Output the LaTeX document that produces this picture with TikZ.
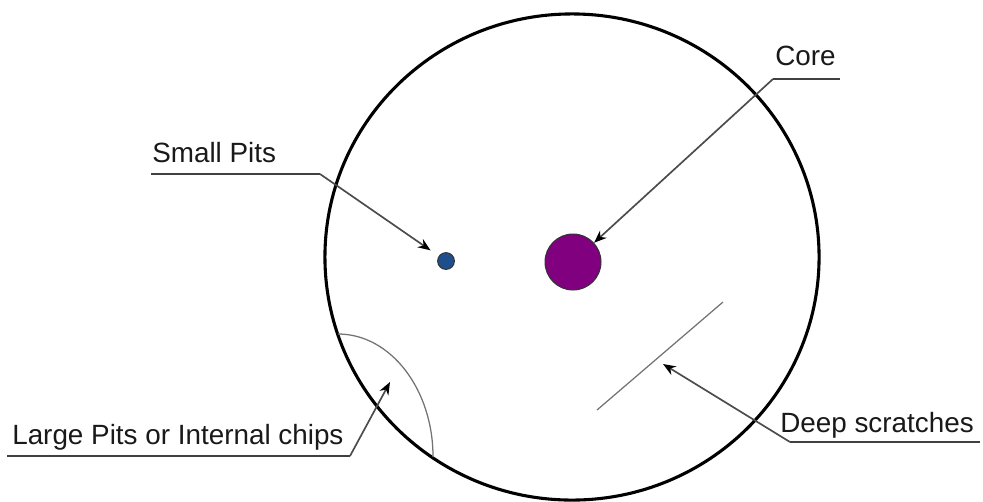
\documentclass[tikz,border=0pt]{standalone}
\usepackage{fontspec}
\setmainfont{Liberation Sans}
\usetikzlibrary{arrows.meta}
\definecolor{corepurple}{HTML}{800080}
\definecolor{pitblue}{HTML}{1F4E8C}
\begin{document}
\begin{tikzpicture}[x=0.025cm, y=-0.025cm,
  font=\fontsize{19.8}{23}\selectfont,
  label/.style={anchor=base west, inner sep=0pt, text=black!90},
  underline/.style={line width=1.6pt, black!75},
  leader/.style={line width=1.2pt, black!70, -{Stealth[length=9pt, width=7pt, black]}},
  defect/.style={line width=0.9pt, black!55},
  ]
  \useasboundingbox (0,0) rectangle (983,501);

  %%% lens outline %%%
  \draw[line width=2.2pt, black] (572,257) ellipse [x radius=6.175cm, y radius=6.075cm];

  %%% defects %%%
  \node[circle, fill=corepurple, draw=black!80, line width=0.7pt, minimum size=1.4cm, inner sep=0pt] (core) at (573,262) {};
  \node[circle, fill=pitblue, draw=black!80, line width=0.7pt, minimum size=0.42cm, inner sep=0pt] (pit) at (446,261) {};
  \draw[defect] (338,334) arc[start angle=90, end angle=0, x radius=2.375cm, y radius=3.075cm];
  \draw[defect] (723,302) -- (597,410);
  \coordinate (chip) at (390,382);
  \coordinate (scratch) at (663,364);

  %%% labels %%%
  \node[label] (pitlbl)     at (152,162) {Small Pits};
  \node[label] (corelbl)    at (775,65)  {Core};
  \node[label] (chiplbl)    at (12,444)  {Large Pits or Internal chips};
  \node[label] (scratchlbl) at (780,432) {Deep scratches};

  %%% underline ends %%%
  \coordinate (pitA) at (151,174);     \coordinate (pitB) at (320,174);
  \coordinate (coreA) at (840,79);     \coordinate (coreB) at (773,79);
  \coordinate (chipA) at (7,456);      \coordinate (chipB) at (350,456);
  \coordinate (scratchA) at (980,442); \coordinate (scratchB) at (790,442);

  %%% underlines and leaders %%%
  \draw[underline] (pitA) -- (pitB);
  \draw[underline] (coreA) -- (coreB);
  \draw[underline] (chipA) -- (chipB);
  \draw[underline] (scratchA) -- (scratchB);
  \draw[leader, shorten >=7pt] (pitB) -- (pit);
  \draw[leader] (coreB) -- (core);
  \draw[leader] (chipB) -- (chip);
  \draw[leader] (scratchB) -- (scratch);
\end{tikzpicture}
\end{document}
